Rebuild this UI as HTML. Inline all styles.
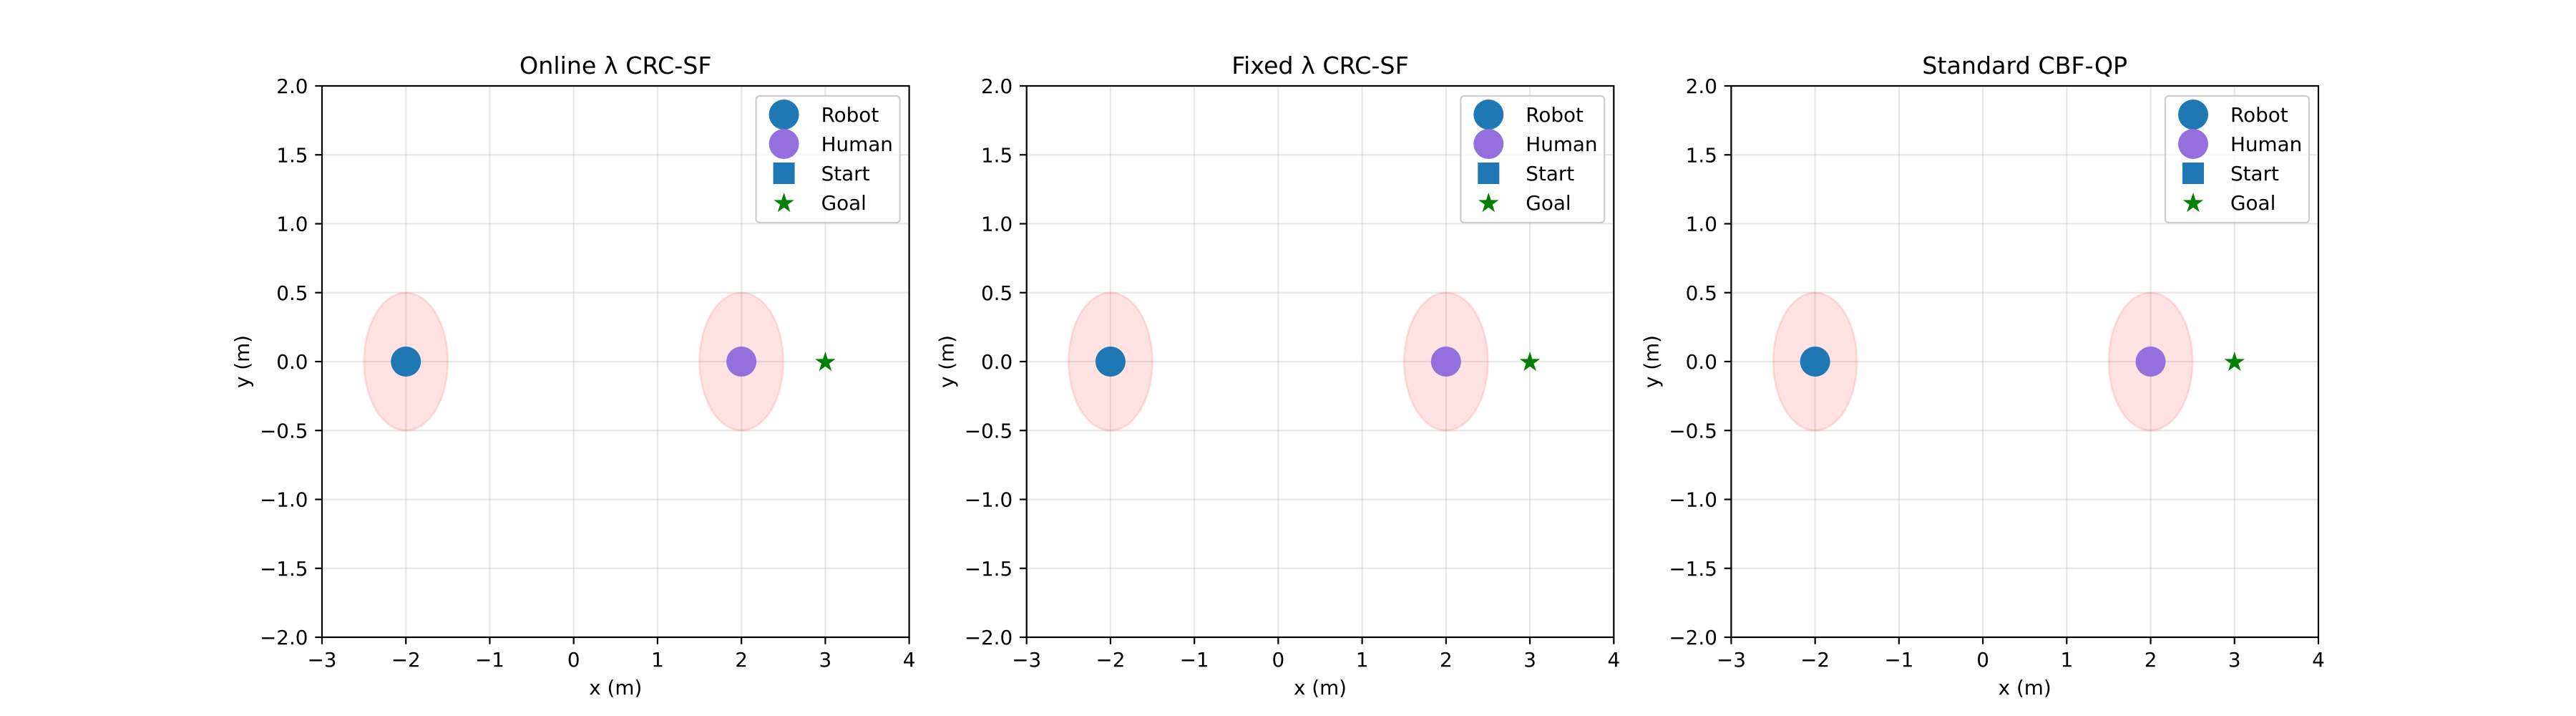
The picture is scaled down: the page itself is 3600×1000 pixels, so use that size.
<!DOCTYPE html>
<html><head><meta charset="utf-8"><style>
html,body{margin:0;padding:0;background:#fff}
svg{display:block}
text{font-family:"DejaVu Sans","Liberation Sans",sans-serif;fill:#000}
</style></head><body>
<svg id="fig" width="3600" height="1000" xmlns="http://www.w3.org/2000/svg"></svg>
<script>
const panelTitles = ["Online λ CRC-SF", "Fixed λ CRC-SF", "Standard CBF-QP"];
const robotPos = [[-2, 0], [-2, 0], [-2, 0]];
const humanPos = [[2, 0], [2, 0], [2, 0]];
const goalPos = [[3, 0], [3, 0], [3, 0]];
const safetyRadius = [0.5, 0.5, 0.5];
const xTicks = [-3, -2, -1, 0, 1, 2, 3, 4];
const yTicks = [-2.0, -1.5, -1.0, -0.5, 0.0, 0.5, 1.0, 1.5, 2.0];
const legendLabels = ["Robot", "Human", "Start", "Goal"];

const NS = "http://www.w3.org/2000/svg";
const svgEl = document.getElementById('fig');
function mk(tag, attrs, parent) {
  const e = document.createElementNS(NS, tag);
  for (const k in attrs) e.setAttribute(k, attrs[k]);
  (parent || svgEl).appendChild(e);
  return e;
}
function fmtNum(v, d) { const s = Math.abs(v).toFixed(d); return (v < 0 ? "\u2212" : "") + s; }
function starPts(cx, cy, R) {
  const r = R * 0.382; let p = [];
  for (let i = 0; i < 10; i++) {
    const a = -Math.PI / 2 + i * Math.PI / 5, rr = i % 2 ? r : R;
    p.push((cx + rr * Math.cos(a)).toFixed(1) + "," + (cy + rr * Math.sin(a)).toFixed(1));
  }
  return p.join(" ");
}
const axW = 820.6, axGap = 164.1, axTop = 120, axBottom = 890;
const xmin = -3, xmax = 4, ymin = -2, ymax = 2;

panelTitles.forEach((title, i) => {
  const L = 450 + i * (axW + axGap), R = L + axW;
  const sx = v => L + (v - xmin) / (xmax - xmin) * axW;
  const sy = v => axBottom - (v - ymin) / (ymax - ymin) * (axBottom - axTop);
  const g = mk('g', {});
  
  
  xTicks.forEach(t => {
    const l = mk('line', {x1: sx(t), x2: sx(t), y1: axTop, y2: axBottom, stroke: '#b0b0b0', 'stroke-opacity': 0.3, 'stroke-width': 2.2}, g);
    
    
  });
  yTicks.forEach(t => {
    const l = mk('line', {x1: L, x2: R, y1: sy(t), y2: sy(t), stroke: '#b0b0b0', 'stroke-opacity': 0.3, 'stroke-width': 2.2}, g);
    
    
  });
  [robotPos[i], humanPos[i]].forEach((p, k) => {
    const e = mk('ellipse', {cx: sx(p[0]), cy: sy(p[1]), rx: sx(safetyRadius[i]) - sx(0), ry: sy(0) - sy(safetyRadius[i]), fill: '#ff0000', 'fill-opacity': 0.11, stroke: '#ff0000', 'stroke-opacity': 0.1, 'stroke-width': 3}, g);
    
    
  });
  const rb = mk('circle', {cx: sx(robotPos[i][0]), cy: sy(robotPos[i][1]), r: 21, fill: '#1f77b4'}, g);
  
  
  const hm = mk('circle', {cx: sx(humanPos[i][0]), cy: sy(humanPos[i][1]), r: 21, fill: '#9370db'}, g);
  
  
  const gl = mk('polygon', {points: starPts(sx(goalPos[i][0]), sy(goalPos[i][1]) + 1, 15), fill: 'green'}, g);
  
  
  const fr = mk('rect', {x: L, y: axTop, width: axW, height: axBottom - axTop, fill: 'none', stroke: '#000', 'stroke-width': 2.2}, g);
  
  
  xTicks.forEach(t => {
    const tl = mk('line', {x1: sx(t), x2: sx(t), y1: axBottom, y2: axBottom + 9.7, stroke: '#000', 'stroke-width': 2.2}, g);
    
    
    const tx = mk('text', {x: sx(t), y: 931, 'font-size': 27.8, 'text-anchor': 'middle'}, g);
    tx.textContent = fmtNum(t, 0);
    
    
  });
  yTicks.forEach(t => {
    const tl = mk('line', {x1: L - 9.7, x2: L, y1: sy(t), y2: sy(t), stroke: '#000', 'stroke-width': 2.2}, g);
    
    
    const tx = mk('text', {x: L - 19.5, y: sy(t) + 10, 'font-size': 27.8, 'text-anchor': 'end'}, g);
    tx.textContent = fmtNum(t, 1);
    
    
  });
  const xl = mk('text', {x: (L + R) / 2, y: 970, 'font-size': 27.8, 'text-anchor': 'middle'}, g);
  xl.textContent = 'x (m)';
  
  
  const yl = mk('text', {x: 0, y: 0, 'font-size': 27.8, 'text-anchor': 'middle', transform: `translate(${L - 102},${(axTop + axBottom) / 2}) rotate(-90)`}, g);
  yl.textContent = 'y (m)';
  
  
  const tt = mk('text', {x: (L + R) / 2, y: 103, 'font-size': 33.3, 'text-anchor': 'middle'}, g);
  tt.textContent = title;
  
  
  const lg = mk('g', {}, g);
  
  
  const lx = R - 214, ly = 134;
  mk('rect', {x: lx, y: ly, width: 201, height: 177, rx: 5, fill: '#fff', 'fill-opacity': 0.8, stroke: '#cccccc', 'stroke-width': 2.2}, lg);
  legendLabels.forEach((lab, k) => {
    const cy = 160 + k * 41, mx = lx + 39;
    let m;
    if (k === 0) m = mk('circle', {cx: mx, cy: cy, r: 21, fill: '#1f77b4'}, lg);
    else if (k === 1) m = mk('circle', {cx: mx, cy: cy, r: 21, fill: '#9370db'}, lg);
    else if (k === 2) m = mk('rect', {x: mx - 15, y: cy - 15, width: 30, height: 30, fill: '#1f77b4'}, lg);
    else m = mk('polygon', {points: starPts(mx, cy + 1, 15), fill: 'green'}, lg);
    
    
    const t = mk('text', {x: lx + 91, y: cy + 10, 'font-size': 27.8}, lg);
    t.textContent = lab;
    
    
  });
});
</script>
</body></html>
